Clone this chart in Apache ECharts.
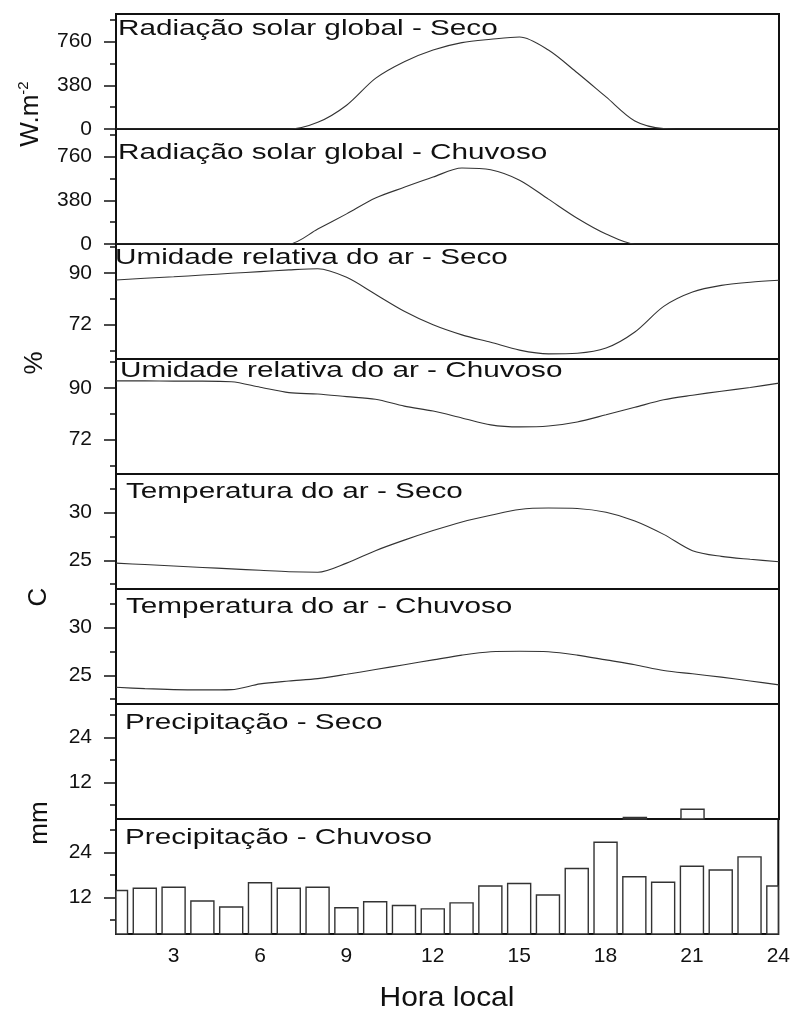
<!DOCTYPE html>
<html lang="pt">
<head>
    <meta charset="UTF-8">
    <title>Radiação, umidade, temperatura e precipitação - Seco x Chuvoso</title>
    <script src="https://cdn.jsdelivr.net/npm/echarts@6/dist/echarts.min.js"></script>
    <style>
        html, body { margin: 0; padding: 0; background: #fff; }
        #main { width: 793px; height: 1010px; }
    </style>
</head>
<body>
<div id="main"></div>
<script>
    // horas do dia (eixo x)
    var horas = [1, 2, 3, 4, 5, 6, 7, 8, 9, 10, 11, 12, 13, 14, 15, 16, 17, 18, 19, 20, 21, 22, 23, 24];
    var xTicks = [3, 6, 9, 12, 15, 18, 21, 24];

    // radiação solar global (W.m-2)
    var radSeco = [0, 0, 0, 0, 0, 0, 0, 58, 207, 440, 585, 687, 751, 780, 800, 687, 489, 279, 70, 5, 0, 0, 0, 0];
    var radChuvoso = [0, 0, 0, 0, 0, 0, 0, 130, 262, 400, 493, 582, 661, 646, 555, 390, 224, 87, 0, 0, 0, 0, 0, 0];
    // umidade relativa (%)
    var umSeco = [87.5, 88.1, 88.6, 89.2, 89.8, 90.4, 91.0, 91.4, 88.4, 82.5, 76.6, 71.9, 68.4, 65.8, 63.1, 61.8, 62.0, 63.8, 69.4, 78.3, 83.3, 85.6, 86.7, 87.4];
    var umChuvoso = [92.4, 92.4, 92.3, 92.3, 92.1, 90.2, 88.3, 87.8, 86.9, 86.0, 83.6, 81.9, 79.5, 77.1, 76.4, 76.7, 78.1, 80.6, 83.2, 85.8, 87.4, 88.8, 90.1, 91.6];
    // temperatura do ar (C)
    var tempSeco = [24.7, 24.55, 24.4, 24.25, 24.1, 23.95, 23.8, 23.75, 24.7, 26.0, 27.1, 28.1, 29.0, 29.7, 30.3, 30.45, 30.4, 30.0, 29.1, 27.7, 26.0, 25.4, 25.1, 24.85];
    var tempChuvoso = [23.75, 23.6, 23.5, 23.47, 23.5, 24.1, 24.4, 24.65, 25.1, 25.6, 26.1, 26.6, 27.1, 27.45, 27.5, 27.45, 27.1, 26.6, 26.1, 25.5, 25.15, 24.8, 24.4, 24.0];
    // precipitação (mm)
    var precSeco = [0, 0, 0, 0, 0, 0, 0, 0, 0, 0, 0, 0, 0, 0, 0, 0, 0, 0, 2.6, 0, 4.8, 0, 0, 0];
    var precChuvoso = [13.8, 14.4, 14.7, 11.0, 9.4, 15.9, 14.4, 14.7, 9.2, 10.8, 9.8, 8.9, 10.5, 15.0, 15.7, 12.6, 19.7, 26.7, 17.5, 16.0, 20.3, 19.3, 22.8, 15.0];

    // marcas dos eixos y
    var radTicks = [0, 380, 760], radMinor = [190, 570, 950];
    var umTicks = [72, 90], umMinor = [63, 81, 99];
    var tempTicks = [25, 30], tempMinor = [22.5, 27.5, 32.5];
    var precTicks = [12, 24], precMinor = [6, 18, 30];

    var titulos = [
        'Radiação solar global - Seco',
        'Radiação solar global - Chuvoso',
        'Umidade relativa do ar - Seco',
        'Umidade relativa do ar - Chuvoso',
        'Temperatura do ar - Seco',
        'Temperatura do ar - Chuvoso',
        'Precipitação - Seco',
        'Precipitação - Chuvoso'
    ];

    var paineis = [
        {dados: radSeco, tipo: 'line', min: 0, max: 1000, maior: radTicks, menor: radMinor},
        {dados: radChuvoso, tipo: 'line', min: 0, max: 1000, maior: radTicks, menor: radMinor},
        {dados: umSeco, tipo: 'line', min: 60, max: 100, maior: umTicks, menor: umMinor},
        {dados: umChuvoso, tipo: 'line', min: 60, max: 100, maior: umTicks, menor: umMinor},
        {dados: tempSeco, tipo: 'line', min: 22, max: 34, maior: tempTicks, menor: tempMinor},
        {dados: tempChuvoso, tipo: 'line', min: 22, max: 34, maior: tempTicks, menor: tempMinor},
        {dados: precSeco, tipo: 'bar', min: 2.2, max: 32.9, maior: precTicks, menor: precMinor},
        {dados: precChuvoso, tipo: 'bar', min: 2.2, max: 32.9, maior: precTicks, menor: precMinor}
    ];

    var fonte = '"Liberation Sans", Arial, Helvetica, sans-serif';
    var cor = '#111';
    var topo = 14, altura = 115;
    var meiaBarra = 0.4; // metade da largura da barra, em horas
    var titPos = [[118, 29], [118, 153], [115, 258], [120, 371], [126, 492], [126, 607], [125, 723], [125, 838]];

    // barras recortadas pela área do gráfico (meia barra nas bordas)
    function desenhaBarra(params, api) {
        var h = api.value(0), v = api.value(1);
        var p0 = api.coord([h - meiaBarra, 0]);
        var p1 = api.coord([h + meiaBarra, v]);
        var cs = params.coordSys;
        var rect = echarts.graphic.clipRectByRect(
            {x: p0[0], y: p1[1], width: p1[0] - p0[0], height: p0[1] - p1[1]},
            {x: cs.x, y: cs.y, width: cs.width, height: cs.height}
        );
        if (!rect || rect.height <= 0 || rect.width <= 0) return null;
        return {
            type: 'rect', shape: rect,
            style: {fill: '#fff', stroke: '#333', lineWidth: 1.4}
        };
    }

    var grid = [], xAxis = [], yAxis = [], series = [], graphic = [];

    paineis.forEach(function (p, i) {
        grid.push({
            left: 116, right: 14, top: topo + i * altura, height: altura,
            show: true, borderColor: cor, borderWidth: 2, backgroundColor: 'transparent'
        });
        xAxis.push({
            type: 'value', gridIndex: i, min: 1, max: 24,
            axisLine: {show: false}, axisTick: {show: false}, splitLine: {show: false},
            axisLabel: i === 7 ? {
                show: true, customValues: xTicks, margin: 12,
                fontSize: 21, color: cor, fontFamily: fonte
            } : {show: false}
        });
        // marcas maiores com rótulos
        yAxis.push({
            type: 'value', gridIndex: i, min: p.min, max: p.max, position: 'left',
            axisLine: {show: false}, splitLine: {show: false},
            axisTick: {show: true, customValues: p.maior, length: 12, lineStyle: {color: cor, width: 1.5}},
            axisLabel: {customValues: p.maior, margin: 24, fontSize: 21, color: cor, fontFamily: fonte}
        });
        // marcas menores
        yAxis.push({
            type: 'value', gridIndex: i, min: p.min, max: p.max, position: 'left',
            axisLine: {show: false}, splitLine: {show: false},
            axisTick: {show: true, customValues: p.menor, length: 6, lineStyle: {color: cor, width: 1.5}},
            axisLabel: {show: false}
        });

        var pontos = horas.map(function (h, k) { return [h, p.dados[k]]; });
        if (p.tipo === 'line') {
            series.push({
                type: 'line', xAxisIndex: i, yAxisIndex: 2 * i, data: pontos,
                showSymbol: false, symbol: 'none', smooth: 0.3, clip: true,
                lineStyle: {color: '#333', width: 1.1}
            });
        } else {
            series.push({
                type: 'custom', xAxisIndex: i, yAxisIndex: 2 * i, data: pontos,
                encode: {x: 0, y: 1}, renderItem: desenhaBarra, silent: true
            });
        }

        graphic.push({
            type: 'text', x: titPos[i][0], y: titPos[i][1], scaleX: 1.35, silent: true, z: 10,
            style: {
                text: titulos[i], font: '22px ' + fonte, fill: cor,
                align: 'left', verticalAlign: 'middle', textAlign: 'left', textVerticalAlign: 'middle'
            }
        });
    });

    // nomes dos eixos
    var nomes = [
        {txt: '{a|W.m}{b|-2}', x: 31, y: 114},
        {txt: '{a|%}', x: 35, y: 363},
        {txt: '{a|C}', x: 39, y: 597},
        {txt: '{a|mm}', x: 40, y: 823}
    ];
    nomes.forEach(function (n) {
        graphic.push({
            type: 'text', x: n.x, y: n.y, rotation: Math.PI / 2, silent: true,
            style: {
                text: n.txt, fill: cor, align: 'center', verticalAlign: 'middle',
                textAlign: 'center', textVerticalAlign: 'middle',
                rich: {
                    a: {font: '26px ' + fonte, fill: cor, lineHeight: 30},
                    b: {font: '15px ' + fonte, fill: cor, verticalAlign: 'top', lineHeight: 30}
                }
            }
        });
    });
    graphic.push({
        type: 'text', x: 447, y: 998, scaleX: 1.07, silent: true,
        style: {
            text: 'Hora local', font: '28px ' + fonte, fill: cor,
            align: 'center', verticalAlign: 'middle', textAlign: 'center', textVerticalAlign: 'middle'
        }
    });

    var myChart = echarts.init(document.getElementById('main'), null, {renderer: 'canvas'});
    myChart.setOption({
        animation: false,
        backgroundColor: '#fff',
        grid: grid,
        xAxis: xAxis,
        yAxis: yAxis,
        series: series,
        graphic: graphic
    });
</script>
</body>
</html>
